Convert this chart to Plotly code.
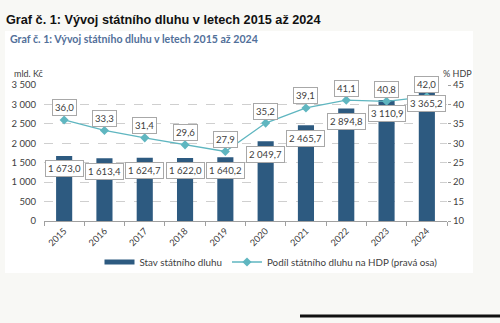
import plotly.graph_objects as go

years = ["2015", "2016", "2017", "2018", "2019", "2020", "2021", "2022", "2023", "2024"]
debt = [1673.0, 1613.4, 1624.7, 1622.0, 1640.2, 2049.7, 2465.7, 2894.8, 3110.9, 3365.2]
share = [36.0, 33.3, 31.4, 29.6, 27.9, 35.2, 39.1, 41.1, 40.8, 42.0]
left_ticks = [0, 500, 1000, 1500, 2000, 2500, 3000, 3500]
right_ticks = [10, 15, 20, 25, 30, 35, 40, 45]

W, H = 500, 323
L, R, T, B = 44, 53, 85, 102
PW, PH = W - L - R, H - T - B

def px(x):
    return (x - L) / PW

def py(y):
    return (H - B - y) / PH

def fmt(v):
    return f"{v:,.1f}".replace(",", " ").replace(".", ",")

FONT = "Lato, 'Open Sans', sans-serif"
BAR_C = "#2d5a80"
LINE_C = "#5fb6c0"
TXT = "#404040"

fig = go.Figure()
fig.add_trace(go.Bar(x=years, y=debt, name="Stav státního dluhu",
                     marker=dict(color=BAR_C, line=dict(width=0)), width=0.4,
                     yaxis="y", showlegend=False))
# legend entry with a wide flat swatch like the original
fig.add_trace(go.Scatter(x=[None], y=[None], name="Stav státního dluhu", mode="lines",
                         line=dict(color=BAR_C, width=5)))
fig.add_trace(go.Scatter(x=years, y=share, name="Podíl státního dluhu na HDP (pravá osa)",
                         mode="lines+markers", yaxis="y2",
                         line=dict(color=LINE_C, width=1.3),
                         marker=dict(symbol="diamond", size=7, color=LINE_C)))

ann = []
for i, v in enumerate(debt):
    ann.append(dict(x=i, y=v, xref="x", yref="y", text=fmt(v), showarrow=False,
                    yshift=-13, font=dict(family=FONT, size=9.6, color=TXT),
                    bgcolor="white", bordercolor="#a8a8a8", borderwidth=1, borderpad=2))
for i, v in enumerate(share):
    ann.append(dict(x=i, y=v, xref="x", yref="y2", text=fmt(v), showarrow=False,
                    yshift=12, font=dict(family=FONT, size=9.6, color=TXT),
                    bgcolor="white", bordercolor="#a8a8a8", borderwidth=1, borderpad=2))

ann.append(dict(x=px(4), y=py(20), xref="paper", yref="paper", xanchor="left", yanchor="middle",
                text="<b>Graf č. 1: Vývoj státního dluhu v letech 2015 až 2024</b>", showarrow=False,
                font=dict(family="'Liberation Sans', Arial, sans-serif", size=12.7, color="#111111")))
ann.append(dict(x=px(8), y=py(39), xref="paper", yref="paper", xanchor="left", yanchor="middle",
                text="<b>Graf č. 1: Vývoj státního dluhu v letech 2015 až 2024</b>", showarrow=False,
                font=dict(family=FONT, size=10.6, color="#52709a")))
ann.append(dict(x=px(12), y=py(73), xref="paper", yref="paper", xanchor="left", yanchor="middle",
                text="mld. Kč", showarrow=False, font=dict(family=FONT, size=9, color=TXT)))
ann.append(dict(x=px(457), y=py(73), xref="paper", yref="paper", xanchor="center", yanchor="middle",
                text="% HDP", showarrow=False, font=dict(family=FONT, size=9, color=TXT)))

shapes = [
    dict(type="rect", xref="paper", yref="paper", x0=px(5), x1=px(473), y0=py(273), y1=py(31),
         fillcolor="white", line=dict(width=0), layer="below"),
    dict(type="line", xref="paper", yref="paper", x0=px(300), x1=px(500), y0=py(316), y1=py(316),
         line=dict(color="#111111", width=3)),
]

fig.update_layout(
    width=W, height=H,
    margin=dict(l=L, r=R, t=T, b=B),
    paper_bgcolor="#f8f8f5", plot_bgcolor="white",
    font=dict(family=FONT, size=9.5, color=TXT),
    showlegend=True,
    legend=dict(orientation="h", x=px(271), y=py(262), xanchor="center", yanchor="middle",
                font=dict(family=FONT, size=9.8, color=TXT), bgcolor="rgba(0,0,0,0)",
                tracegroupgap=0, itemwidth=30),
    xaxis=dict(type="category", range=[-0.5, 9.5], tickangle=-45, tickson="boundaries",
               ticks="outside", ticklen=4,
               tickcolor="#a0a0a0", showline=True, linecolor="#a0a0a0", linewidth=1,
               showgrid=False, tickfont=dict(family=FONT, size=9.2, color=TXT)),
    yaxis=dict(range=[0, 3500], tickvals=left_ticks,
               ticktext=[f"{v:,}".replace(",", " ") for v in left_ticks],
               showgrid=True, gridcolor="#cfcfcf", griddash="dash", gridwidth=1,
               zeroline=False, showline=False, ticks="", ticklabelstandoff=7,
               tickfont=dict(family=FONT, size=9.5, color=TXT)),
    yaxis2=dict(range=[10, 45], tickvals=right_ticks, overlaying="y", side="right",
                showgrid=False, zeroline=False, showline=False, ticks="outside", ticklen=3,
                tickcolor="#a0a0a0", tickfont=dict(family=FONT, size=9.5, color=TXT)),
    annotations=ann, shapes=shapes,
)

fig.write_html("out.html")
